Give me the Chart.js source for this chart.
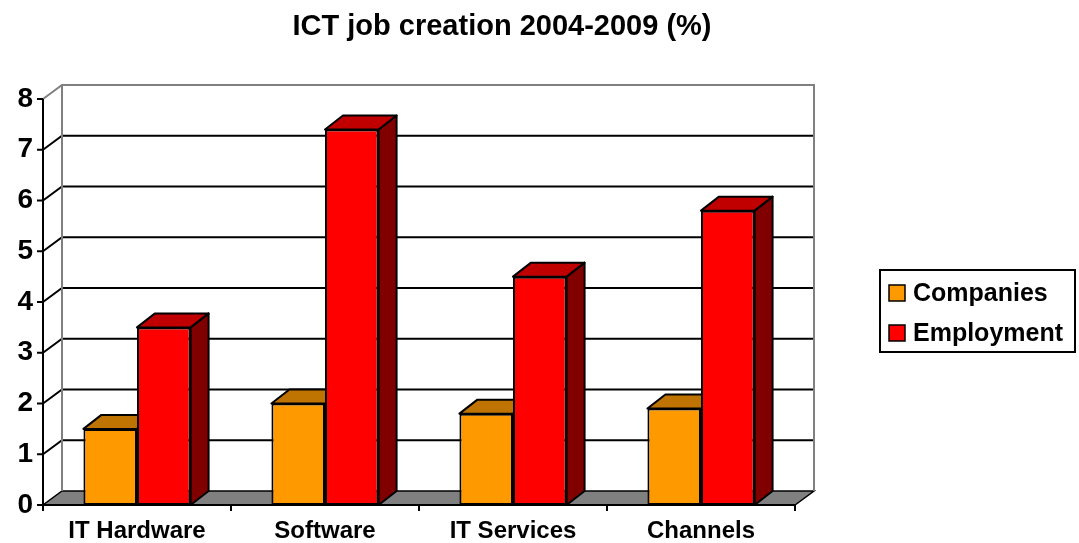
<!DOCTYPE html>
<html>
<head>
<meta charset="utf-8">
<script src="https://cdn.jsdelivr.net/npm/chart.js@4.4.1/dist/chart.umd.min.js"></script>
<style>
  body { margin: 0; background: #fff; }
</style>
</head>
<body>
<canvas id="chart" width="1079" height="543"></canvas>
<script>
const chartTitle = 'ICT job creation 2004-2009 (%)';
const categories = ['IT Hardware', 'Software', 'IT Services', 'Channels'];
const companies = [1.5, 2.0, 1.8, 1.9];
const employment = [3.5, 7.4, 4.5, 5.8];
const yMin = 0;
const yMax = 8;

const FONT = '"Liberation Sans", Arial, sans-serif';
// depth of the walls / of the bars
const DX = 19, DY = -14;
const BDX = 18, BDY = -14;

function poly(ctx, pts, fill) {
  ctx.beginPath();
  ctx.moveTo(pts[0][0], pts[0][1]);
  for (let i = 1; i < pts.length; i++) ctx.lineTo(pts[i][0], pts[i][1]);
  ctx.closePath();
  ctx.fillStyle = fill;
  ctx.fill();
  ctx.strokeStyle = '#000';
  ctx.lineWidth = 2;
  ctx.lineJoin = 'round';
  ctx.stroke();
}

function line(ctx, x1, y1, x2, y2) {
  ctx.beginPath();
  ctx.moveTo(x1, y1);
  ctx.lineTo(x2, y2);
  ctx.stroke();
}

const frame3d = {
  id: 'frame3d',
  beforeDatasetsDraw(chart) {
    const { ctx, chartArea: a, scales: { y } } = chart;
    const top = y.getPixelForValue(yMax);
    ctx.save();
    // floor
    ctx.beginPath();
    ctx.moveTo(a.left, a.bottom);
    ctx.lineTo(a.right, a.bottom);
    ctx.lineTo(a.right + DX, a.bottom + DY);
    ctx.lineTo(a.left + DX, a.bottom + DY);
    ctx.closePath();
    ctx.fillStyle = '#808080';
    ctx.fill();
    ctx.strokeStyle = '#000';
    ctx.lineWidth = 1.5;
    ctx.stroke();

    // gridlines on side wall and back wall
    ctx.strokeStyle = '#000';
    ctx.lineWidth = 2;
    for (let v = yMin + 1; v < yMax; v++) {
      const py = y.getPixelForValue(v);
      ctx.beginPath();
      ctx.moveTo(a.left, py);
      ctx.lineTo(a.left + DX, py + DY);
      ctx.lineTo(a.right + DX, py + DY);
      ctx.stroke();
    }

    // wall edges
    ctx.strokeStyle = '#808080';
    ctx.beginPath();
    ctx.moveTo(a.left, top);
    ctx.lineTo(a.left + DX, top + DY);
    ctx.lineTo(a.right + DX, top + DY);
    ctx.lineTo(a.right + DX, a.bottom + DY);
    ctx.moveTo(a.left + DX, top + DY);
    ctx.lineTo(a.left + DX, a.bottom + DY);
    ctx.stroke();

    // tops and sides of the bars
    chart.data.datasets.forEach((ds, di) => {
      chart.getDatasetMeta(di).data.forEach(bar => {
        const p = bar.getProps(['x', 'y', 'base', 'width'], true);
        const l = p.x - p.width / 2, r = p.x + p.width / 2;
        poly(ctx, [[r, p.y], [r + BDX, p.y + BDY], [r + BDX, p.base + BDY], [r, p.base]], ds.sideColor);
        poly(ctx, [[l, p.y], [l + BDX, p.y + BDY], [r + BDX, p.y + BDY], [r, p.y]], ds.topColor);
      });
    });
    ctx.restore();
  },
  afterDatasetsDraw(chart) {
    const { ctx, chartArea: a, scales: { y } } = chart;
    ctx.save();
    ctx.strokeStyle = '#000';
    ctx.lineWidth = 2;
    // value axis + ticks
    line(ctx, a.left, y.getPixelForValue(yMax), a.left, a.bottom);
    for (let v = yMin; v <= yMax; v++) {
      const py = y.getPixelForValue(v);
      line(ctx, a.left - 6, py, a.left, py);
    }
    // category axis + ticks
    line(ctx, a.left, a.bottom, a.right, a.bottom);
    const step = (a.right - a.left) / categories.length;
    for (let i = 0; i <= categories.length; i++) {
      const px = a.left + i * step;
      line(ctx, px, a.bottom, px, a.bottom + 6);
    }
    ctx.restore();
  },
  afterDraw(chart) {
    const { ctx } = chart;
    ctx.save();
    // title
    ctx.fillStyle = '#000';
    ctx.font = 'bold 29px ' + FONT;
    ctx.textAlign = 'center';
    ctx.textBaseline = 'middle';
    ctx.fillText(chartTitle, 502, 27);

    // legend
    ctx.strokeStyle = '#000';
    ctx.lineWidth = 2;
    ctx.strokeRect(880, 270, 195, 82);
    ctx.font = 'bold 25px ' + FONT;
    ctx.textAlign = 'left';
    chart.data.datasets.forEach((ds, i) => {
      const cy = 293 + i * 40;
      ctx.fillStyle = ds.backgroundColor;
      ctx.fillRect(889, cy - 8, 16, 16);
      ctx.lineWidth = 1.5;
      ctx.strokeRect(889, cy - 8, 16, 16);
      ctx.fillStyle = '#000';
      ctx.fillText(ds.label, 913, cy + 1);
    });
    ctx.restore();
  }
};

new Chart(document.getElementById('chart'), {
  type: 'bar',
  data: {
    labels: categories,
    datasets: [
      {
        label: 'Companies',
        data: companies,
        backgroundColor: '#FF9900',
        topColor: '#BF7300',
        sideColor: '#804D00',
        borderColor: '#000',
        borderWidth: 2,
        borderSkipped: false,
      },
      {
        label: 'Employment',
        data: employment,
        backgroundColor: '#FF0000',
        topColor: '#C00000',
        sideColor: '#800000',
        borderColor: '#000',
        borderWidth: 2,
        borderSkipped: false,
      },
    ],
  },
  options: {
    responsive: false,
    animation: false,
    devicePixelRatio: 1,
    layout: { padding: { top: 99, right: 284, left: 0, bottom: 0 } },
    datasets: { bar: { categoryPercentage: 0.57, barPercentage: 1 } },
    plugins: {
      legend: { display: false },
      title: { display: false },
      tooltip: { enabled: false },
    },
    scales: {
      x: {
        grid: { display: false, drawTicks: false },
        border: { display: false },
        ticks: { color: '#000', padding: 12, font: { family: FONT, size: 24, weight: 'bold' } },
        afterFit(scale) { scale.height = 38; },
      },
      y: {
        min: yMin,
        max: yMax,
        grid: { display: false, drawTicks: false },
        border: { display: false },
        ticks: { stepSize: 1, color: '#000', padding: 10, font: { family: FONT, size: 28, weight: 'bold' } },
        afterFit(scale) { scale.width = 43; },
      },
    },
  },
  plugins: [frame3d],
});
</script>
</body>
</html>
